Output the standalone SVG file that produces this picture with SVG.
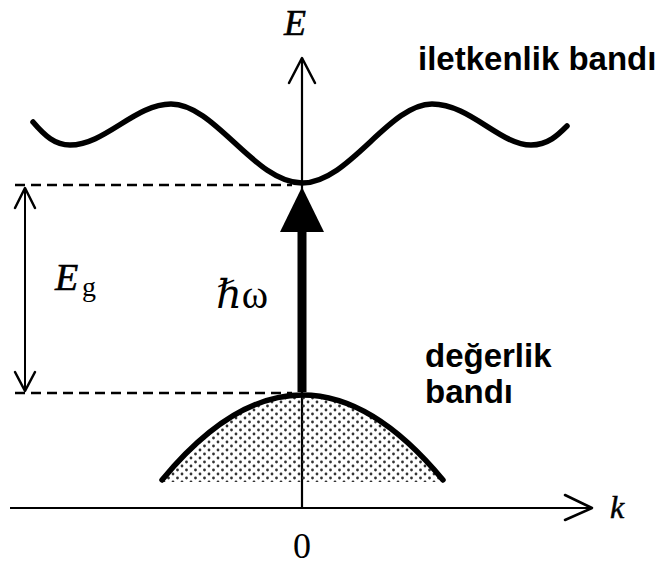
<svg xmlns="http://www.w3.org/2000/svg" width="663" height="565" viewBox="0 0 663 565">
  <style>
    .ax { stroke:#000; stroke-width:2.2; fill:none; }
    .head { stroke:#000; stroke-width:2.5; fill:none; stroke-linecap:round; stroke-linejoin:round; }
    .dash { stroke:#000; stroke-width:2.5; stroke-dasharray:10 6; fill:none; }
    .band { stroke:#000; stroke-width:5.5; fill:none; stroke-linecap:round; }
    .ser { font-family:"Liberation Serif","DejaVu Serif",serif; fill:#000; }
    .sans { font-family:"Liberation Sans",Arial,sans-serif; font-weight:bold; fill:#000; font-size:33px; }
  </style>
  <defs>
    <pattern id="dots" width="9" height="8" patternUnits="userSpaceOnUse">
      <circle cx="2" cy="2" r="1.4" fill="#333"/>
      <circle cx="6.5" cy="6" r="1.4" fill="#333"/>
    </pattern>
  </defs>
  <rect width="663" height="565" fill="#fff"/>

  <g id="axes">
    <line class="ax" x1="302" y1="58" x2="302" y2="508"/>
    <polyline class="head" points="289,83 302,58 315,83"/>
    <line class="ax" x1="10" y1="508" x2="592" y2="508"/>
    <polyline class="head" points="565,495 592,508 565,520"/>
    <text class="ser" x="284" y="35" font-size="36" font-style="italic" stroke="#000" stroke-width="0.6">E</text>
    <text class="ser" x="610" y="518" font-size="32" font-style="italic" stroke="#000" stroke-width="0.5">k</text>
    <text class="ser" x="302" y="558" font-size="36" text-anchor="middle">0</text>
  </g>

  <g id="conduction-band">
    <path class="band" d="M33,122 C45,136 55,145 70,145 C105,145 135,104 171,104 C215,104 255,183 302,183 C349,183 389,104 432,104 C470,104 500,145 531,145 C548,145 558,135 567,126"/>
    <text class="sans" x="418" y="70">iletkenlik bandı</text>
  </g>

  <g id="valence-band">
    <path d="M162,480 Q302.5,310 443,480 L443,482 L162,482 Z" fill="url(#dots)"/>
    <path class="band" d="M162,480 Q302.5,310 443,480"/>
    <text class="sans" x="425" y="367">değerlik</text>
    <text class="sans" x="425" y="403">bandı</text>
  </g>

  <g id="connectors">
    <line class="dash" x1="15" y1="185" x2="292" y2="185"/>
    <line class="dash" x1="15" y1="393" x2="292" y2="393"/>
    <line x1="25" y1="188" x2="25" y2="391" stroke="#000" stroke-width="2"/>
    <polyline class="head" points="15,208 25,188 35,208" stroke-width="2.2"/>
    <polyline class="head" points="15,372 25,391 35,372" stroke-width="2.2"/>
    <line x1="302" y1="230" x2="302" y2="392" stroke="#000" stroke-width="9"/>
    <polygon points="302,187 280,232 324,232" fill="#000"/>
  </g>

  <g id="labels">
    <text class="ser" x="55" y="290" font-size="38" font-style="italic" stroke="#000" stroke-width="0.6">E</text>
    <text class="ser" x="82" y="296" font-size="28">g</text>
    <text class="ser" x="216" y="308" font-size="40"><tspan font-style="italic">ℏ</tspan><tspan>ω</tspan></text>
  </g>
</svg>
